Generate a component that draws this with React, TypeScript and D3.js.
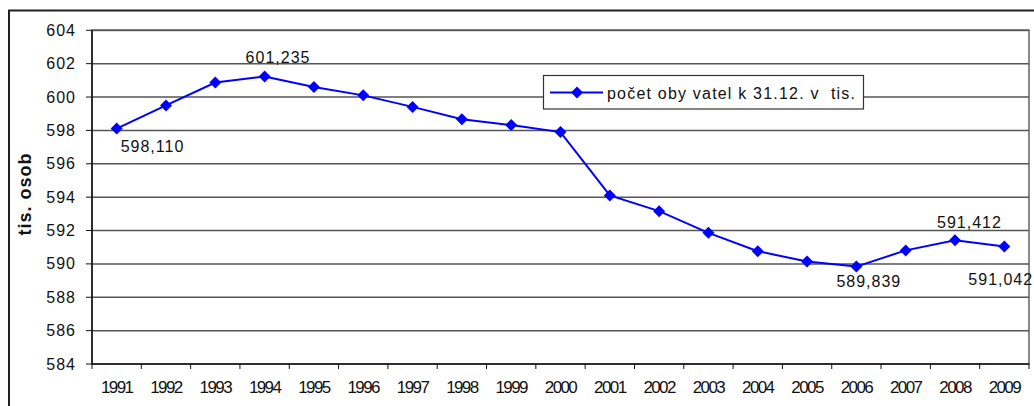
import React from "react";
import * as d3 from "d3";

const years = ["1991","1992","1993","1994","1995","1996","1997","1998","1999","2000","2001","2002","2003","2004","2005","2006","2007","2008","2009"];
const population = [598.110, 599.5, 600.87, 601.235, 600.6, 600.1, 599.41, 598.67, 598.32, 597.9, 594.1, 593.16, 591.86, 590.76, 590.14, 589.839, 590.81, 591.412, 591.042];
const yTicks = [584, 586, 588, 590, 592, 594, 596, 598, 600, 602, 604];
const labelledIdx = [0, 3, 15, 17, 18];
const seriesName = "počet oby vatel k 31.12. v  tis.";
const yTitle = "tis. osob";

const W = 1034, H = 406;
const L = 92, R = 1029, T = 30.3, B = 364;
const font = "Arial, 'Liberation Sans', sans-serif";

// label offsets (dx, dy) per labelled point
const labelOffsets: Record<number, [number, number]> = {
  0: [4, 23],
  3: [-19, -13],
  15: [-20, 20],
  17: [-18, -12],
  18: [-36, 38],
};

const fmt = (v: number) => v.toFixed(3).replace(".", ",");

export default function App() {
  const x = d3.scaleBand<string>().domain(years).range([L, R]).padding(0);
  const y = d3.scaleLinear().domain([584, 604]).range([B, T]);
  const cx = (i: number) => (x(years[i]) as number) + x.bandwidth() / 2;
  const line = d3.line<number>().x((_, i) => cx(i)).y((d) => y(d));
  const diamond = (px: number, py: number, s = 6) =>
    `M${px},${py - s}L${px + s},${py}L${px},${py + s}L${px - s},${py}Z`;
  const boundaries = years.map((yr) => x(yr) as number).concat([R]);

  return (
    <svg width={W} height={H} style={{ position: "absolute", left: 0, top: 0, background: "#fff" }} fontFamily={font}>
      <rect x={0} y={0} width={W} height={H} fill="#fff" />
      {/* outer frame */}
      <rect x={9} y={10.5} width={1100} height={500} fill="none" stroke="#222" strokeWidth={2} />
      {/* plot area border */}
      <rect x={L} y={T} width={R - L} height={B - T} fill="none" stroke="#8a8a8a" strokeWidth={2} />
      {/* gridlines */}
      {yTicks.slice(1).map((t) => (
        <line key={t} x1={L} x2={R} y1={y(t)} y2={y(t)} stroke="#555" strokeWidth={1.5} />
      ))}
      {/* axes */}
      <line x1={L} x2={L} y1={T} y2={B} stroke="#111" strokeWidth={1.5} />
      <line x1={L} x2={R} y1={B} y2={B} stroke="#111" strokeWidth={1.5} />
      {yTicks.map((t) => (
        <g key={"yt" + t}>
          <line x1={L - 6} x2={L} y1={y(t)} y2={y(t)} stroke="#111" strokeWidth={1} />
          <text x={76} y={y(t) + 5.5} textAnchor="end" fontSize={16} letterSpacing={1} fill="#111">{t}</text>
        </g>
      ))}
      {boundaries.map((b, i) => (
        <line key={"xt" + i} x1={b} x2={b} y1={B} y2={B + 5} stroke="#111" strokeWidth={1} />
      ))}
      {years.map((yr, i) => (
        <text key={"xl" + yr} x={cx(i)} y={392.5} textAnchor="middle" fontSize={17} letterSpacing={-1.6} fill="#111">{yr}</text>
      ))}
      {/* y title */}
      <text transform={`translate(31,194) rotate(-90)`} textAnchor="middle" fontSize={18} fontWeight="bold" letterSpacing={1} fill="#111">{yTitle}</text>
      {/* series */}
      <path d={line(population) || ""} fill="none" stroke="#0000ff" strokeWidth={2} />
      {population.map((v, i) => (
        <path key={"m" + i} d={diamond(cx(i), y(v))} fill="#0000ff" />
      ))}
      {labelledIdx.map((i) => {
        const [dx, dy] = labelOffsets[i];
        return (
          <text key={"dl" + i} x={cx(i) + dx} y={y(population[i]) + dy} fontSize={16} letterSpacing={1} fill="#111">{fmt(population[i])}</text>
        );
      })}
      {/* legend */}
      <rect x={543.5} y={75.5} width={320} height={33.5} fill="#fff" stroke="#333" strokeWidth={1.2} />
      <line x1={550} x2={603} y1={92.5} y2={92.5} stroke="#0000ff" strokeWidth={2} />
      <path d={diamond(577, 92.5)} fill="#0000ff" />
      <text x={607} y={99} fontSize={16} textLength={248} lengthAdjust="spacing" style={{ whiteSpace: "pre" }} fill="#111">{seriesName}</text>
    </svg>
  );
}
